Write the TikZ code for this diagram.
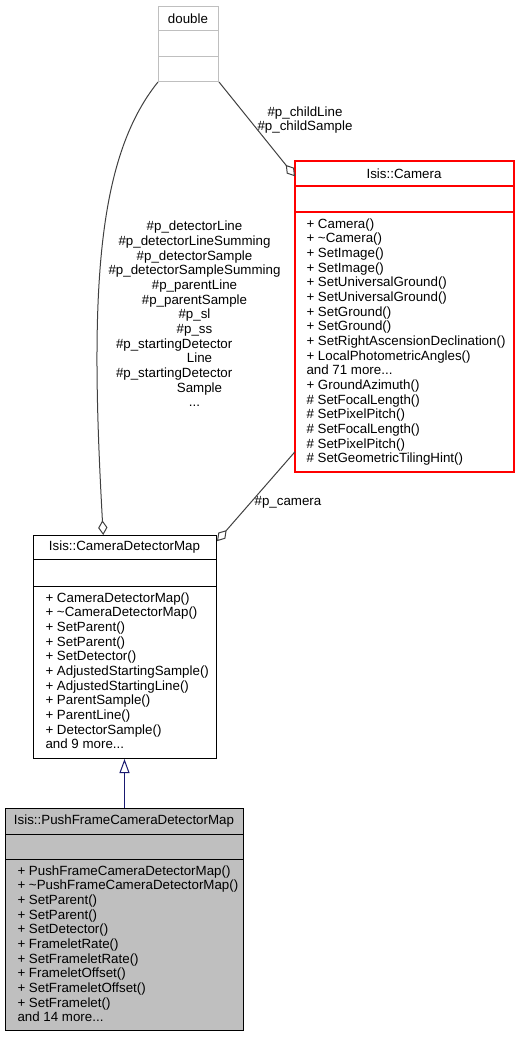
\documentclass[tikz,border=0pt]{standalone}
\usepackage{fontspec}
\setmainfont{Liberation Sans}
\usetikzlibrary{arrows.meta}

\definecolor{edgegray}{RGB}{64,64,64}
\definecolor{boxgray}{RGB}{191,191,191}
\definecolor{paleline}{RGB}{191,191,191}
\definecolor{camred}{RGB}{255,0,0}
\definecolor{basenavy}{RGB}{25,25,112}

\begin{document}
\begin{tikzpicture}[x=0.75pt,y=-0.75pt,line width=0.75pt,
    font=\fontsize{10pt}{11pt}\selectfont]
  \tikzset{
    classbox/.style={fill=white,anchor=north west,inner sep=0pt},
    members/.style={anchor=north west,inner sep=0pt,align=left},
    redline/.style={draw=camred,line width=1.1pt},
    aggr/.style={draw=edgegray,-{Diamond[open,fill=white,length=11pt,width=7pt]}},
    inherit/.style={draw=basenavy,-{Triangle[open,fill=white,length=10.5pt,width=7.5pt]}}
  }
  \useasboundingbox (0,0) rectangle (519,1037);

  % class boxes
  \node[classbox,draw=paleline,minimum width=45pt,minimum height=56.25pt] (dbl) at (158,6) {};
  \node[classbox,minimum width=163.5pt,minimum height=232.5pt] (cam) at (295,161) {};
  \node[classbox,draw=black,minimum width=137.25pt,minimum height=167.25pt] (cdm) at (33,535) {};
  \node[classbox,draw=black,fill=boxgray,minimum width=178.5pt,minimum height=166.5pt] (pf) at (5,808) {};

  % compartments
  \draw[paleline] (dbl.north west) ++(0,25) -- ++(60,0) ++(-60,26) -- ++(60,0);
  \draw[redline] (cam.north west) rectangle (cam.south east);
  \draw[redline] (cam.north west) ++(0,25) -- ++(218,0) ++(-218,26) -- ++(218,0);
  \draw (cdm.north west) ++(0,24) -- ++(183,0) ++(-183,27) -- ++(183,0);
  \draw (pf.north west) ++(0,26) -- ++(238,0) ++(-238,25) -- ++(238,0);

  \node (dbl-title) at (188,18.5) {double};
  \node (cam-title) at (404,173.5) {Isis::Camera};
  \node (cdm-title) at (124.5,547) {Isis::CameraDetectorMap};
  \node (pf-title) at (124,821) {Isis::PushFrameCameraDetectorMap};

  \node[members] (cam-ops) at (306,218) {%
    + Camera()\\
    + \textasciitilde Camera()\\
    + SetImage()\\
    + SetImage()\\
    + SetUniversalGround()\\
    + SetUniversalGround()\\
    + SetGround()\\
    + SetGround()\\
    + SetRightAscensionDeclination()\\
    + LocalPhotometricAngles()\\
    and 71 more...\\
    + GroundAzimuth()\\
    \# SetFocalLength()\\
    \# SetPixelPitch()\\
    \# SetFocalLength()\\
    \# SetPixelPitch()\\
    \# SetGeometricTilingHint()};

  \node[members] (cdm-ops) at (45,592) {%
    + CameraDetectorMap()\\
    + \textasciitilde CameraDetectorMap()\\
    + SetParent()\\
    + SetParent()\\
    + SetDetector()\\
    + AdjustedStartingSample()\\
    + AdjustedStartingLine()\\
    + ParentSample()\\
    + ParentLine()\\
    + DetectorSample()\\
    and 9 more...};

  \node[members] (pf-ops) at (17,865) {%
    + PushFrameCameraDetectorMap()\\
    + \textasciitilde PushFrameCameraDetectorMap()\\
    + SetParent()\\
    + SetParent()\\
    + SetDetector()\\
    + FrameletRate()\\
    + SetFrameletRate()\\
    + FrameletOffset()\\
    + SetFrameletOffset()\\
    + SetFramelet()\\
    and 14 more...};

  % relations
  \draw[aggr] (dbl.south west) .. controls (95,160) and (90,300) .. (cdm.101);
  \draw[aggr] (dbl.south east) -- (cam.128);
  \draw[aggr] (cam.231) -- (cdm.49);
  \draw[inherit] (pf.north) -- (pf.north |- cdm.south);

  \node[align=center,inner sep=0pt] (detector-lbl) at (194.5,314) {%
    \#p\_detectorLine\\
    \#p\_detectorLineSumming\\
    \#p\_detectorSample\\
    \#p\_detectorSampleSumming\\
    \#p\_parentLine\\
    \#p\_parentSample\\
    \#p\_sl\\
    \#p\_ss\\
    \makebox[117.75pt][l]{\#p\_startingDetector}\\
    \hspace*{7.5pt}Line\\
    \makebox[117.75pt][l]{\#p\_startingDetector}\\
    \hspace*{7.5pt}Sample\\
    ...};
  \node[align=center,inner sep=0pt] (child-lbl) at (305,120) {\#p\_childLine\\\#p\_childSample};
  \node[inner sep=0pt] (camera-lbl) at (288,502) {\#p\_camera};
\end{tikzpicture}
\end{document}
